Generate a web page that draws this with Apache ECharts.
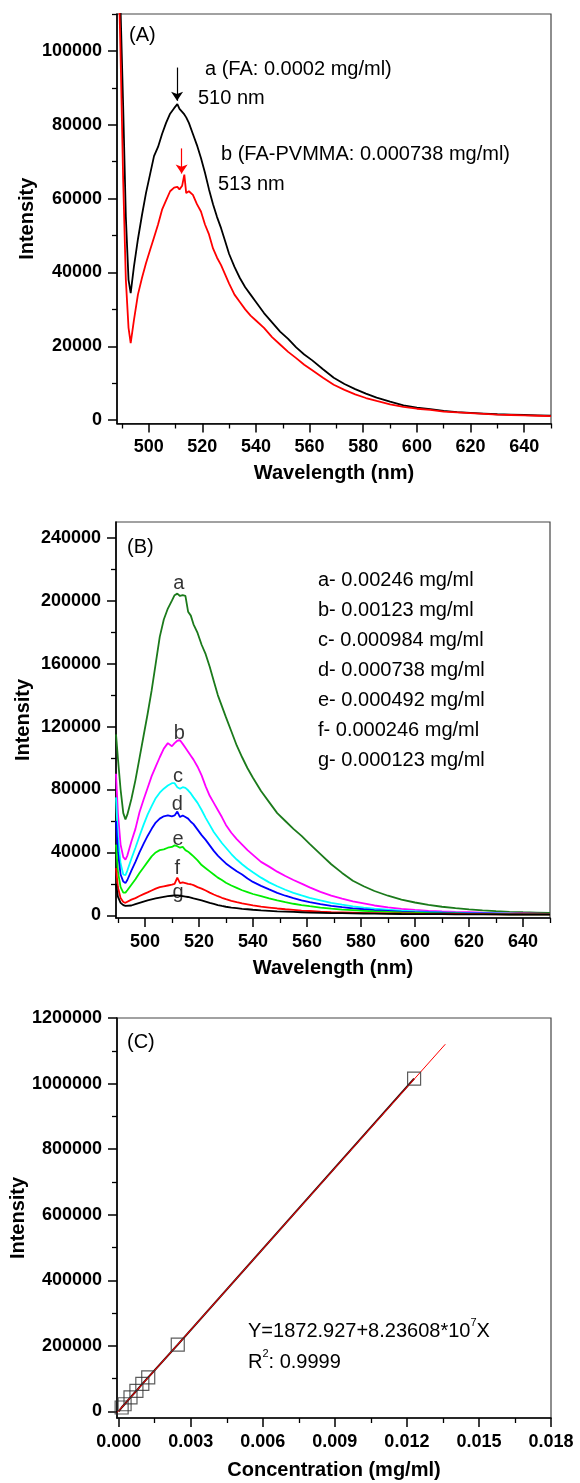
<!DOCTYPE html>
<html>
<head>
<meta charset="utf-8">
<script src="https://cdn.jsdelivr.net/npm/echarts@6/dist/echarts.min.js"></script>
<style>
  html, body { margin: 0; padding: 0; background: #fff; }
  #main { width: 580px; height: 1483px; }
</style>
</head>
<body>
<div id="main"></div>
<script>
// ---- panel A : FA vs FA-PVMMA spectra ----
var wlA = [488.5, 489.5, 490.5, 491.5, 492.5, 493.3, 494.5, 496, 497.5, 499, 500.5, 502, 503.5, 505, 506.5, 508, 509.5, 510.7, 511.5, 512.5, 513.3, 514, 515, 516.5, 518, 519.5, 521, 522.5, 524, 525.5, 527, 528.5, 530, 532, 534, 536, 538, 540, 543, 546, 549, 552, 555, 558, 561, 565, 569, 573, 577, 581, 585, 590, 595, 600, 605, 610, 615, 620, 625, 630, 635, 640, 645, 650];
var faA = [130000, 112000, 85000, 55000, 38000, 34400, 41500, 49000, 55500, 61500, 66500, 71500, 74000, 77500, 80500, 83000, 84500, 85600, 84300, 83500, 82800, 82000, 80500, 77500, 74500, 71000, 67000, 62500, 58500, 55000, 52000, 48500, 45000, 41500, 38500, 36000, 34000, 32000, 29000, 26500, 24000, 22000, 19700, 17800, 16200, 13800, 11500, 9800, 8400, 7200, 6100, 5000, 4000, 3400, 3000, 2500, 2200, 2000, 1800, 1600, 1500, 1400, 1300, 1200];
var pvA = [130000, 100000, 65000, 38000, 25000, 20900, 27000, 34000, 38500, 42500, 46000, 49500, 53000, 57000, 59500, 62000, 63000, 63200, 62500, 63500, 66500, 61500, 62000, 61000, 58500, 56500, 53000, 50300, 46500, 44000, 42000, 39500, 37000, 34000, 32000, 30000, 28300, 27000, 25000, 22500, 20500, 18500, 16800, 15000, 13500, 11500, 9600, 8200, 7000, 6000, 5200, 4300, 3600, 3100, 2800, 2300, 2100, 1900, 1700, 1500, 1400, 1300, 1200, 1100];
var arrowA = [[510.6, 95500], [510.6, 86500]];
var arrowB = [[512.3, 73600], [512.3, 66800]];

// ---- panel B : concentration series ----
var wlB = [489.3, 490, 491, 492, 492.8, 493.5, 495, 496.5, 498, 499.5, 501, 502.5, 504, 505.5, 507, 508.5, 510, 511, 512, 513, 514, 515, 516, 517, 518, 519.5, 521, 522.5, 524, 525.5, 527, 528.5, 530, 532, 534, 536, 538, 540, 543, 546, 549, 552, 555, 558, 561, 565, 569, 573, 577, 581, 585, 590, 595, 600, 605, 610, 615, 620, 625, 630, 635, 640, 645, 650];
var sa = [115000, 100000, 80000, 65000, 61000, 64000, 74000, 86000, 100000, 114000, 128000, 143000, 160000, 177000, 188000, 195000, 200000, 203500, 204500, 203000, 203500, 203000, 193000, 190500, 185000, 179500, 172000, 166000, 158000, 149000, 140000, 133000, 126000, 117000, 108000, 100500, 93500, 87500, 79000, 72000, 65000, 60000, 55000, 50500, 45500, 39000, 32500, 27000, 22000, 18500, 15500, 12500, 10000, 8200, 6700, 5500, 4600, 3800, 3200, 2700, 2300, 2000, 1800, 1600];
var sb = [90000, 65000, 45000, 37000, 35500, 38000, 47000, 55000, 65500, 73500, 81000, 88500, 94500, 100500, 106000, 109500, 107500, 109500, 111000, 111300, 109000, 106500, 104000, 101500, 99000, 94500, 89000, 82000, 76000, 71500, 67000, 62500, 57500, 52500, 48500, 45000, 41500, 38500, 34000, 31000, 27800, 25000, 22500, 20200, 17800, 15000, 12600, 10600, 8900, 7600, 6300, 5100, 4200, 3500, 2900, 2500, 2200, 2000, 1700, 1500, 1300, 1200, 1100, 1000];
var sc = [75000, 50000, 33000, 26000, 25500, 28500, 36000, 43000, 50500, 57500, 64000, 69500, 74500, 78000, 80500, 82500, 84000, 84000, 81500, 80500, 81500, 81000, 79500, 77500, 75000, 71500, 67000, 62000, 57500, 53000, 49500, 46000, 43000, 39000, 35500, 32500, 29800, 27400, 24000, 21000, 18500, 16300, 14300, 12700, 11200, 9500, 8000, 6800, 5800, 5000, 4300, 3600, 3000, 2600, 2200, 1900, 1700, 1500, 1300, 1200, 1100, 1000, 900, 800];
var sd = [60000, 40000, 26000, 21500, 20500, 22500, 28500, 34000, 40000, 45500, 50500, 55000, 59000, 61500, 63000, 63500, 63000, 63500, 66000, 62500, 63500, 62500, 61500, 59500, 58000, 54500, 51000, 48000, 44500, 41000, 38000, 35500, 33000, 30500, 28000, 26000, 23500, 21300, 18800, 16500, 14300, 12500, 11000, 9600, 8400, 7200, 6100, 5200, 4500, 3900, 3400, 2900, 2400, 2100, 1900, 1700, 1500, 1300, 1200, 1100, 1000, 900, 850, 800];
var se = [45000, 28000, 18000, 14500, 14500, 16000, 19500, 23000, 27000, 30500, 34000, 37500, 40000, 41500, 42000, 43000, 43500, 44500, 44000, 43000, 43500, 41500, 40500, 39000, 37500, 35000, 32000, 30000, 28000, 26000, 24000, 22500, 20800, 19000, 17500, 16000, 14800, 13600, 12200, 10800, 9500, 8400, 7400, 6600, 5900, 5000, 4300, 3700, 3300, 2900, 2500, 2200, 1900, 1700, 1500, 1300, 1200, 1000, 900, 800, 700, 700, 600, 600];
var sf = [30000, 18000, 11000, 8500, 8000, 8800, 10000, 11000, 12300, 13500, 14600, 15800, 17000, 18000, 18500, 19000, 19500, 20000, 24000, 20500, 21000, 20500, 20000, 19800, 19200, 18000, 17000, 15800, 14500, 13300, 12200, 11200, 10300, 9300, 8400, 7600, 7000, 6400, 5600, 5000, 4400, 3900, 3500, 3100, 2800, 2400, 2100, 1900, 1700, 1500, 1400, 1300, 1200, 1100, 1000, 900, 900, 800, 800, 700, 700, 600, 600, 600];
var sg = [20000, 12000, 8000, 6500, 6000, 6000, 6300, 7200, 8000, 8800, 9500, 10200, 10800, 11300, 11800, 12200, 12500, 12700, 12700, 12500, 12300, 12000, 11700, 11300, 10800, 10200, 9500, 8800, 8000, 7300, 6600, 6000, 5500, 5000, 4600, 4200, 3900, 3600, 3200, 2900, 2600, 2400, 2200, 2000, 1800, 1700, 1500, 1400, 1300, 1200, 1100, 1000, 900, 850, 800, 750, 700, 650, 600, 600, 550, 550, 500, 500];
var namesB = ['a', 'b', 'c', 'd', 'e', 'f', 'g'];
var concB = ['0.00246', '0.00123', '0.000984', '0.000738', '0.000492', '0.000246', '0.000123'];
var colorsB = ['#1b7a1b', '#ff00ff', '#00ffff', '#0000ff', '#00ee00', '#ff0000', '#000000'];
var letterPos = [[512.6, 211000], [512.7, 115500], [512.3, 88500], [512.0, 70500], [512.3, 48500], [512.0, 29500], [512.3, 14500]];

// ---- panel C : calibration ----
var concC = [0.000123, 0.000246, 0.000492, 0.000738, 0.000984, 0.00123, 0.00246, 0.0123];
var intC = [12000, 22000, 43000, 63000, 84000, 104000, 204000, 1015000];
var fitX = [-0.00006, 0.0136];
var fitY = [-3000, 1120000];

// tick values
var wlMajor = [500, 520, 540, 560, 580, 600, 620, 640];
var wlMinor = [490, 510, 530, 550, 570, 590, 610, 630, 650];
var yAMajor = [0, 20000, 40000, 60000, 80000, 100000];
var yAMinor = [10000, 30000, 50000, 70000, 90000, 110000];
var yBMajor = [0, 40000, 80000, 120000, 160000, 200000, 240000];
var yBMinor = [20000, 60000, 100000, 140000, 180000, 220000];
var xCMajor = [0, 0.003, 0.006, 0.009, 0.012, 0.015, 0.018];
var xCMinor = [0.0015, 0.0045, 0.0075, 0.0105, 0.0135, 0.0165];
var yCMajor = [0, 200000, 400000, 600000, 800000, 1000000, 1200000];
var yCMinor = [100000, 300000, 500000, 700000, 900000, 1100000];

var FONT = "'Liberation Sans', Arial, sans-serif";

function zip(xs, ys) {
    return xs.map(function (x, i) { return [x, ys[i]]; });
}

function mainAxis(gi, pos, min, max, ticks, name, gap, fmt) {
    return {
        type: 'value', gridIndex: gi, position: pos, min: min, max: max,
        name: name, nameLocation: 'middle', nameGap: gap, nameMoveOverlap: false,
        nameTextStyle: { fontFamily: FONT, fontWeight: 'bold', fontSize: 20, color: '#000' },
        axisLine: { show: true, onZero: false, lineStyle: { color: '#000', width: 1.6 } },
        axisTick: { show: true, inside: false, length: 9, customValues: ticks, lineStyle: { color: '#000', width: 1.5 } },
        axisLabel: { show: true, margin: 15, customValues: ticks, formatter: fmt,
            fontFamily: FONT, fontWeight: 'bold', fontSize: 18, color: '#000' },
        splitLine: { show: false }
    };
}
function minorAxis(gi, pos, min, max, ticks) {
    return {
        type: 'value', gridIndex: gi, position: pos, min: min, max: max, offset: 0,
        axisLine: { show: false, onZero: false },
        axisTick: { show: true, inside: false, length: 5, customValues: ticks, lineStyle: { color: '#000', width: 1.3 } },
        axisLabel: { show: false },
        splitLine: { show: false }
    };
}
function intFmt(v) { return String(Math.round(v)); }
function c3Fmt(v) { return v.toFixed(3); }

function spectrum(xi, yi, data, color) {
    return {
        type: 'line', xAxisIndex: xi, yAxisIndex: yi, data: data,
        showSymbol: false, symbol: 'none', clip: true, z: 3,
        lineStyle: { color: color, width: 1.8 }
    };
}

var series = [];
// A
var sA = spectrum(0, 0, zip(wlA, faA), '#000');
sA.markLine = {
    silent: true, symbol: ['none', 'arrow'], symbolSize: 9, label: { show: false },
    lineStyle: { color: '#000', width: 1.2, type: 'solid' },
    data: [[{ coord: arrowA[0] }, { coord: arrowA[1] }]]
};
series.push(sA);
var sB = spectrum(0, 0, zip(wlA, pvA), '#ff0000');
sB.markLine = {
    silent: true, symbol: ['none', 'arrow'], symbolSize: 9, label: { show: false },
    lineStyle: { color: '#ff0000', width: 1.2, type: 'solid' },
    data: [[{ coord: arrowB[0] }, { coord: arrowB[1] }]]
};
series.push(sB);
// B
[sa, sb, sc, sd, se, sf, sg].forEach(function (vals, i) {
    series.push(spectrum(2, 2, zip(wlB, vals), colorsB[i]));
});
series.push({
    type: 'scatter', xAxisIndex: 2, yAxisIndex: 2, symbolSize: 1, z: 5,
    itemStyle: { color: 'rgba(0,0,0,0)' },
    data: letterPos.map(function (p, i) { return { value: p, name: namesB[i] }; }),
    label: { show: true, position: 'inside', formatter: '{b}', fontFamily: FONT, fontSize: 20, color: '#000' }
});
// C
series.push({
    type: 'line', xAxisIndex: 4, yAxisIndex: 4, data: zip([0].concat(concC), [0].concat(intC)),
    showSymbol: false, symbol: 'none', z: 2, lineStyle: { color: '#3a1010', width: 2 }
});
series.push({
    type: 'line', xAxisIndex: 4, yAxisIndex: 4, data: zip(fitX, fitY),
    showSymbol: false, symbol: 'none', z: 3, lineStyle: { color: '#ff0000', width: 1 }
});
series.push({
    type: 'scatter', xAxisIndex: 4, yAxisIndex: 4, data: zip(concC, intC), z: 4,
    symbol: 'rect', symbolSize: 13,
    itemStyle: { color: 'rgba(0,0,0,0)', borderColor: '#333', borderWidth: 1.2 }
});

function txt(x, y, s, extra) {
    var st = { text: s, x: x, y: y, fill: '#000', fontFamily: FONT, fontSize: 20, verticalAlign: 'middle', align: 'left' };
    if (extra) { for (var k in extra) st[k] = extra[k]; }
    return { type: 'text', z: 10, style: st };
}
var graphics = [
    txt(129, 35, '(A)'),
    txt(205, 69, 'a (FA: 0.0002 mg/ml)'),
    txt(198, 98, '510 nm'),
    txt(221, 154, 'b (FA-PVMMA: 0.000738 mg/ml)'),
    txt(218, 184, '513 nm'),
    txt(127, 547, '(B)'),
    txt(127, 1042, '(C)')
];
namesB.forEach(function (n, i) {
    graphics.push(txt(318, 580 + i * 30, n + '- ' + concB[i] + ' mg/ml'));
});
var rich = {
    n: { fontFamily: FONT, fontSize: 20, color: '#000', lineHeight: 24, verticalAlign: 'bottom' },
    s: { fontFamily: FONT, fontSize: 11, color: '#000', lineHeight: 24, verticalAlign: 'top' }
};
graphics.push(txt(248, 1329, '{n|Y=1872.927+8.23608*10}{s|7}{n|X}', { rich: rich }));
graphics.push(txt(248, 1360, '{n|R}{s|2}{n|: 0.9999}', { rich: rich }));

var gridBase = { show: true, borderColor: '#444', borderWidth: 1.2, backgroundColor: 'transparent', outerBoundsMode: 'none', containLabel: false };
function grid(left, top, height) {
    var g = { left: left, top: top, width: 434, height: height };
    for (var k in gridBase) g[k] = gridBase[k];
    return g;
}

var myChart = echarts.init(document.getElementById('main'), null, { renderer: 'canvas' });
var option = {
    animation: false,
    backgroundColor: '#fff',
    grid: [grid(117, 14, 409.5), grid(116, 522, 396), grid(117, 1018, 400)],
    xAxis: [
        mainAxis(0, 'bottom', 488.2, 650, wlMajor, 'Wavelength (nm)', 40, intFmt),
        minorAxis(0, 'bottom', 488.2, 650, wlMinor),
        mainAxis(1, 'bottom', 489.3, 650, wlMajor, 'Wavelength (nm)', 40, intFmt),
        minorAxis(1, 'bottom', 489.3, 650, wlMinor),
        mainAxis(2, 'bottom', -0.00007, 0.018, xCMajor, 'Concentration (mg/ml)', 42, c3Fmt),
        minorAxis(2, 'bottom', -0.00007, 0.018, xCMinor)
    ],
    yAxis: [
        mainAxis(0, 'left', -900, 110000, yAMajor, 'Intensity', 80, intFmt),
        minorAxis(0, 'left', -900, 110000, yAMinor),
        mainAxis(1, 'left', -1650, 250000, yBMajor, 'Intensity', 83, intFmt),
        minorAxis(1, 'left', -1650, 250000, yBMinor),
        mainAxis(2, 'left', -20000, 1200000, yCMajor, 'Intensity', 89, intFmt),
        minorAxis(2, 'left', -20000, 1200000, yCMinor)
    ],
    series: series,
    graphic: graphics
};
myChart.setOption(option);
</script>
</body>
</html>
